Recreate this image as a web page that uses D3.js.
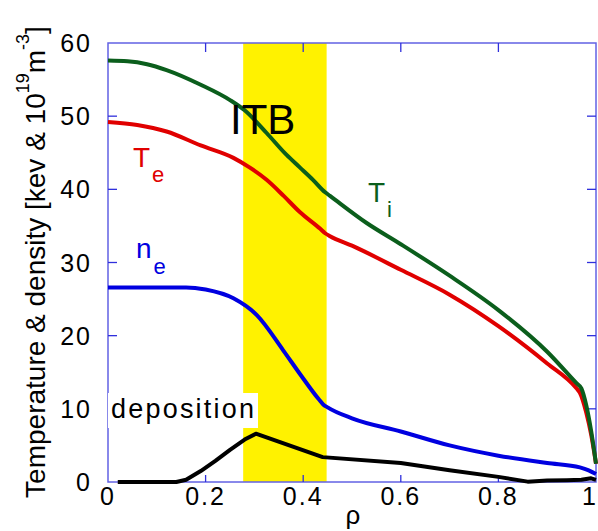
<!DOCTYPE html>
<html>
<head>
<meta charset="utf-8">
<script src="https://cdn.jsdelivr.net/npm/d3@7"></script>
<style>
  body { margin: 0; background: #fff; }
  text { font-family: "Liberation Sans", Arial, sans-serif; }
</style>
</head>
<body>
<div id="chart"></div>
<script>
// values
const tiRho = [0, 0.04, 0.08, 0.12, 0.19, 0.25, 0.28, 0.325, 0.366, 0.393, 0.42, 0.445, 0.455, 0.53, 0.6, 0.7, 0.8, 0.9, 0.96, 0.97, 0.98, 0.99, 1.0];
const tiVal = [57.6, 57.5, 57.1, 56.3, 54.3, 52.2, 50.8, 47.7, 44.7, 43.0, 41.3, 39.6, 39.1, 35.4, 32.5, 28.2, 23.5, 17.8, 13.5, 12.8, 10.5, 7.0, 2.5];

const teRho = [0, 0.06, 0.12, 0.19, 0.257, 0.29, 0.325, 0.36, 0.393, 0.435, 0.445, 0.455, 0.5, 0.6, 0.7, 0.8, 0.9, 0.96, 0.967, 0.98, 0.99, 1.0];
const teVal = [49.2, 48.8, 47.9, 46.0, 44.3, 43.0, 41.3, 39.1, 36.9, 34.6, 34.0, 33.6, 32.3, 29.0, 25.6, 21.3, 16.2, 12.8, 12.2, 9.5, 6.5, 2.5];

const neRho = [0, 0.16, 0.2, 0.257, 0.305, 0.359, 0.393, 0.432, 0.441, 0.45, 0.5, 0.6, 0.7, 0.8, 0.9, 0.967, 0.985, 1.0];
const neVal = [26.6, 26.6, 26.3, 25.1, 22.8, 18.0, 14.8, 11.3, 10.6, 10.2, 8.7, 6.9, 5.0, 3.6, 2.6, 2.0, 1.6, 1.1];

const depRho = [0.02, 0.14, 0.16, 0.19, 0.22, 0.25, 0.28, 0.303, 0.44, 0.6, 0.7, 0.8, 0.86, 0.9, 0.94, 0.97, 0.99, 1.0];
const depVal = [0, 0, 0.3, 1.5, 2.9, 4.4, 5.8, 6.6, 3.4, 2.6, 1.6, 0.7, 0.05, 0.2, 0.25, 0.3, 0.5, 0.3];

const itbBand = [0.277, 0.448];

const xTicks = [0, 0.2, 0.4, 0.6, 0.8, 1];
const xTickLabels = ["0", "0.2", "0.4", "0.6", "0.8", "1"];
const yTicks = [0, 10, 20, 30, 40, 50, 60];

const width = 598, height = 531;
const margin = {top: 43, right: 2, bottom: 49, left: 108};

const svg = d3.select("#chart").append("svg")
    .attr("width", width)
    .attr("height", height);

const x = d3.scaleLinear().domain([0, 1]).range([margin.left, width - margin.right]);
const y = d3.scaleLinear().domain([0, 60]).range([height - margin.bottom, margin.top]);

// ITB band
svg.append("rect")
    .attr("x", x(itbBand[0]))
    .attr("y", y(60))
    .attr("width", x(itbBand[1]) - x(itbBand[0]))
    .attr("height", y(0) - y(60))
    .attr("fill", "#fff200");

// frame + inward ticks
const axisCol = "#6262e4";
const tickCol = "#3030dc";
svg.append("rect")
    .attr("x", x(0)).attr("y", y(60))
    .attr("width", x(1) - x(0)).attr("height", y(0) - y(60))
    .attr("fill", "none")
    .attr("stroke", axisCol)
    .attr("stroke-width", 1.5);

const gTicks = svg.append("g").attr("stroke", tickCol).attr("stroke-width", 1.3);
xTicks.slice(1, -1).forEach(t => {
    gTicks.append("line").attr("x1", x(t)).attr("x2", x(t)).attr("y1", y(0)).attr("y2", y(0) - 7);
    gTicks.append("line").attr("x1", x(t)).attr("x2", x(t)).attr("y1", y(60)).attr("y2", y(60) + 9);
});
yTicks.slice(1, -1).forEach(t => {
    gTicks.append("line").attr("x1", x(0)).attr("x2", x(0) + 9).attr("y1", y(t)).attr("y2", y(t));
    gTicks.append("line").attr("x1", x(1)).attr("x2", x(1) - 9).attr("y1", y(t)).attr("y2", y(t));
});

// tick labels
svg.append("g").selectAll("text")
    .data(yTicks)
    .enter().append("text")
    .attr("x", 92)
    .attr("y", d => y(d) + 9)
    .attr("text-anchor", "end")
    .attr("font-size", 25)
    .attr("letter-spacing", "2px")
    .text(d => d);

svg.append("g").selectAll("text")
    .data(xTicks)
    .enter().append("text")
    .attr("x", d => Math.min(x(d), 590))
    .attr("y", 505)
    .attr("text-anchor", "middle")
    .attr("font-size", 25)
    .attr("letter-spacing", "2px")
    .text((d, i) => xTickLabels[i]);

// axis titles
svg.append("text")
    .attr("x", 353)
    .attr("y", 524)
    .attr("text-anchor", "middle")
    .attr("font-size", 26)
    .text("ρ");

const yTitle = svg.append("text")
    .attr("transform", "translate(45,262) rotate(-90)")
    .attr("text-anchor", "middle")
    .attr("font-size", 28);
yTitle.append("tspan").text("Temperature & density [kev & 10");
yTitle.append("tspan").attr("dy", -16).attr("font-size", 18).text("19");
yTitle.append("tspan").attr("dy", 16).text("m");
yTitle.append("tspan").attr("dy", -16).attr("font-size", 18).text("-3");
yTitle.append("tspan").attr("dy", 16).text("]");

// curves
const smooth = d3.line()
    .x(d => x(d[0]))
    .y(d => y(d[1]))
    .curve(d3.curveMonotoneX);
const straight = d3.line()
    .x(d => x(d[0]))
    .y(d => y(d[1]));

const series = [
    {rho: depRho, val: depVal, color: "#000000", line: straight},
    {rho: neRho, val: neVal, color: "#0000e0", line: smooth},
    {rho: teRho, val: teVal, color: "#e00000", line: smooth},
    {rho: tiRho, val: tiVal, color: "#0b5e1c", line: smooth}
];

// white box behind "deposition" (drawn over the axis line)
svg.append("rect")
    .attr("x", 108).attr("y", 393)
    .attr("width", 150).attr("height", 35)
    .attr("fill", "#fff");

svg.append("g").selectAll("path")
    .data(series)
    .enter().append("path")
    .attr("d", s => s.line(s.rho.map((r, i) => [r, s.val[i]])))
    .attr("fill", "none")
    .attr("stroke", s => s.color)
    .attr("stroke-width", 4)
    .attr("stroke-linejoin", "round");

// labels
svg.append("text")
    .attr("x", 230).attr("y", 134)
    .attr("font-size", 42)
    .text("ITB");

svg.append("text")
    .attr("x", 111).attr("y", 418)
    .attr("font-size", 27)
    .attr("textLength", 143)
    .text("deposition");

function subLabel(px, py, main, sub, color, dx, dy) {
    const t = svg.append("text")
        .attr("x", px).attr("y", py)
        .attr("font-size", 28)
        .attr("fill", color);
    t.append("tspan").text(main);
    t.append("tspan").attr("dx", dx).attr("dy", dy).attr("font-size", 22).text(sub);
}
subLabel(133, 167, "T", "e", "#e00000", 2, 15);
subLabel(368, 202, "T", "i", "#0b5e1c", 2, 15);
subLabel(136, 258, "n", "e", "#0000e0", 2, 16);
</script>
</body>
</html>
